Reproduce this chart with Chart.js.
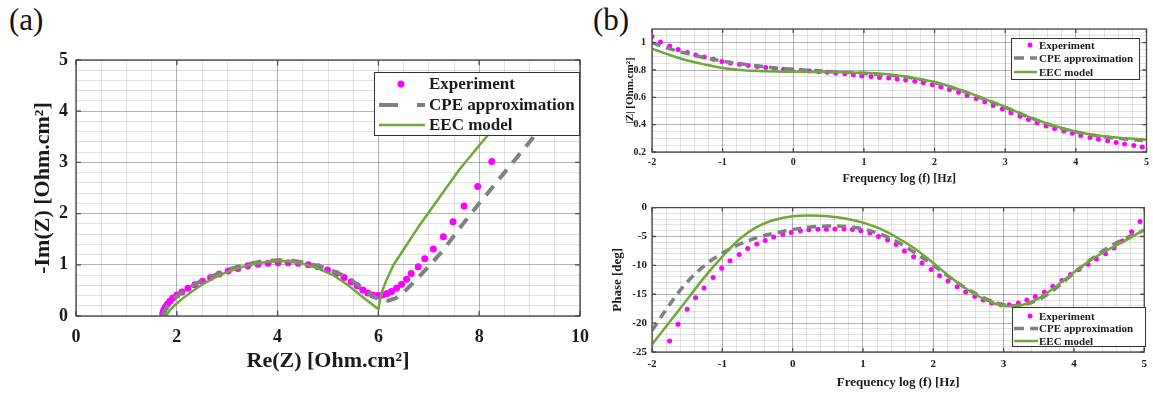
<!DOCTYPE html>
<html><head><meta charset="utf-8">
<script src="https://cdn.jsdelivr.net/npm/chart.js@4.4.1/dist/chart.umd.min.js"></script>
<style>
html,body{margin:0;padding:0;background:#fff;}
body{width:1153px;height:394px;position:relative;overflow:hidden;}
canvas{position:absolute;}
.lab{position:absolute;font-family:"Liberation Serif","Times New Roman",serif;font-size:31px;line-height:31px;color:#111;}
</style></head><body>
<div class="lab" style="left:9px;top:4px">(a)</div>
<div class="lab" style="left:593px;top:4px">(b)</div>
<canvas id="ca" width="600" height="394" style="left:0;top:0"></canvas>
<canvas id="cb1" width="563" height="194" style="left:590px;top:0"></canvas>
<canvas id="cb2" width="563" height="198" style="left:590px;top:196px"></canvas>
<script>
// ---------- (a) Nyquist data ----------
const nyqExpRe = [1.72,1.74,1.77,1.81,1.86,1.92,2.00,2.10,2.22,2.36,2.51,2.67,2.84,3.02,3.21,3.41,3.61,3.81,4.01,4.21,4.41,4.61,4.80,4.99,5.16,5.32,5.46,5.58,5.69,5.79,5.89,5.99,6.08,6.17,6.26,6.36,6.46,6.56,6.65,6.79,6.92,7.09,7.29,7.48,7.70,7.97,8.25];
const nyqExpIm = [0.05,0.11,0.17,0.23,0.29,0.35,0.41,0.47,0.54,0.61,0.68,0.75,0.82,0.88,0.93,0.98,1.01,1.03,1.04,1.04,1.03,1.00,0.96,0.90,0.83,0.75,0.67,0.59,0.51,0.45,0.41,0.40,0.41,0.44,0.48,0.54,0.62,0.72,0.83,0.96,1.12,1.31,1.55,1.84,2.15,2.53,3.02];
const nyqCpeRe = [1.72,1.76,1.82,1.92,2.05,2.2,2.4,2.6,2.85,3.1,3.4,3.7,4.0,4.3,4.6,4.9,5.2,5.45,5.7,5.9,6.05,6.2,6.35,6.5,6.7,7.0,7.3,7.6,8.0,8.5,9.0,9.4];
const nyqCpeIm = [0,0.1,0.2,0.32,0.43,0.53,0.64,0.74,0.84,0.93,1.01,1.07,1.09,1.08,1.03,0.95,0.84,0.71,0.53,0.38,0.31,0.30,0.35,0.46,0.66,0.97,1.3,1.7,2.2,2.8,3.4,3.9];
const nyqEecRe = [1.79,1.85,1.95,2.1,2.3,2.5,2.75,3.0,3.3,3.6,3.9,4.2,4.5,4.8,5.1,5.4,5.7,6.0,6.03,6.08,6.15,6.3,6.5,6.8,7.2,7.6,8.0,8.4,8.8];
const nyqEecIm = [0,0.1,0.2,0.33,0.48,0.61,0.75,0.86,0.96,1.03,1.07,1.07,1.02,0.93,0.8,0.6,0.36,0.13,0.3,0.5,0.68,1.0,1.3,1.75,2.3,2.85,3.33,3.8,4.35];
const nyqXTicks = [0,2,4,6,8,10];
const nyqYTicks = [0,1,2,3,4,5];

// ---------- (b) Bode data ----------
const freqExp = [-2.00,-1.88,-1.75,-1.63,-1.50,-1.38,-1.26,-1.13,-1.01,-0.89,-0.76,-0.64,-0.51,-0.39,-0.27,-0.14,-0.02,0.11,0.23,0.36,0.48,0.60,0.73,0.85,0.97,1.10,1.22,1.35,1.47,1.59,1.72,1.84,1.97,2.09,2.21,2.34,2.46,2.59,2.71,2.83,2.96,3.08,3.21,3.33,3.45,3.58,3.70,3.83,3.95,4.07,4.20,4.32,4.45,4.57,4.69,4.82,4.94];
const magExp = [1.045,1.005,0.975,0.95,0.928,0.91,0.895,0.878,0.863,0.852,0.842,0.833,0.825,0.818,0.811,0.804,0.80,0.796,0.792,0.788,0.783,0.778,0.772,0.765,0.757,0.752,0.746,0.741,0.735,0.727,0.718,0.706,0.692,0.675,0.657,0.637,0.615,0.592,0.567,0.541,0.515,0.488,0.462,0.437,0.413,0.391,0.372,0.354,0.337,0.321,0.307,0.294,0.282,0.27,0.258,0.247,0.237];
const phaseExp = [null,null,-23.1,-20.2,-17.6,-15.6,-13.9,-12.1,-10.5,-9.2,-8.1,-7.1,-6.3,-5.7,-5.1,-4.6,-4.3,-4.0,-3.85,-3.75,-3.75,-3.7,-3.7,-3.8,-4.0,-4.4,-5.0,-5.6,-6.4,-7.5,-8.5,-9.6,-10.7,-11.8,-12.7,-13.7,-14.6,-15.4,-16.0,-16.5,-16.8,-16.8,-16.5,-16.0,-15.4,-14.6,-13.6,-12.6,-11.6,-10.7,-9.8,-8.9,-8.0,-7.0,-5.8,-4.2,-2.4];
const freqModel = [-2,-1.75,-1.5,-1.25,-1,-0.75,-0.5,-0.25,0,0.25,0.5,0.75,1,1.25,1.5,1.75,2,2.25,2.5,2.75,3,3.25,3.5,3.75,4,4.25,4.5,4.75,5];
const magCpe = [1.0,0.955,0.92,0.89,0.865,0.845,0.83,0.815,0.805,0.797,0.79,0.783,0.775,0.765,0.755,0.735,0.708,0.672,0.627,0.577,0.527,0.473,0.423,0.38,0.347,0.322,0.305,0.292,0.283];
const magEec = [0.956,0.91,0.87,0.84,0.815,0.80,0.793,0.789,0.787,0.786,0.785,0.783,0.78,0.773,0.758,0.738,0.712,0.675,0.63,0.58,0.53,0.475,0.425,0.383,0.35,0.325,0.31,0.298,0.29];
const phaseCpe = [-21.3,-16.8,-12.9,-10.0,-7.9,-6.3,-5.2,-4.4,-3.8,-3.35,-3.2,-3.25,-3.7,-4.6,-6.0,-7.9,-10.0,-12.2,-14.2,-15.8,-16.8,-16.9,-15.9,-13.9,-11.3,-8.9,-6.8,-5.2,-3.9];
const phaseEec = [-23.7,-19.8,-15.9,-12.0,-8.5,-5.4,-3.3,-2.1,-1.5,-1.35,-1.5,-1.9,-2.6,-3.7,-5.3,-7.2,-9.6,-12.1,-14.3,-16.0,-17.0,-16.9,-15.7,-13.6,-11.2,-9.0,-7.2,-5.6,-3.8];
const freqTicks = [-2,-1,0,1,2,3,4,5];
const magTicks = [0.2,0.4,0.6,0.8,1];
const phaseTicks = [-25,-20,-15,-10,-5,0];

const seriesLabels = ['Experiment','CPE approximation','EEC model'];

// ---------- helpers ----------
const SERIF = '"Liberation Serif","Times New Roman",serif';
const MAGENTA = '#ff00ff', GRAY = '#808080', GREEN = '#6fa83a';

function minorTicks(min, max, step) {
  const n = Math.round((max - min) / step), a = [];
  for (let i = 0; i <= n; i++) a.push(+(min + i * step).toFixed(6));
  return a;
}
function isIn(v, arr) { return arr.some(m => Math.abs(m - v) < 1e-6); }
function pts(xs, ys) { const o = []; xs.forEach((x, i) => { if (ys[i] !== null) o.push({x: x, y: ys[i]}); }); return o; }

function axis(o) {
  return {
    type: 'linear', position: o.position, min: o.min, max: o.max,
    afterBuildTicks: s => { s.ticks = minorTicks(o.min, o.max, o.minorStep).map(v => ({value: v})); },
    afterFit: s => { if (o.position === 'left') s.width = o.size; else s.height = o.size; },
    ticks: {
      autoSkip: false, maxRotation: 0, minRotation: 0, padding: o.labelPad, color: '#1a1a1a',
      font: {family: SERIF, size: o.fontSize, weight: 'bold'},
      callback: v => isIn(v, o.majors) ? String(+(+v).toFixed(2)) : ''
    },
    grid: {
      drawTicks: false, lineWidth: 1,
      color: c => (c.tick && isIn(c.tick.value, o.majors)) ? 'rgba(0,0,0,0.30)' : 'rgba(0,0,0,0.11)'
    },
    border: {display: false},
    title: {
      display: true, text: o.title, color: '#1a1a1a',
      font: {family: SERIF, size: o.titleSize, weight: 'bold', lineHeight: 1.2},
      padding: o.position === 'left' ? {top: o.titlePad, bottom: 0} : {top: 0, bottom: o.titlePad}
    }
  };
}

const framePlugin = {
  id: 'frame',
  afterDatasetsDraw(chart, args, o) {
    const ctx = chart.ctx, a = chart.chartArea, xs = chart.scales.x, ys = chart.scales.y, tl = o.tickLen;
    ctx.save();
    ctx.strokeStyle = '#4a4a4a'; ctx.lineWidth = 1.3;
    ctx.strokeRect(a.left, a.top, a.right - a.left, a.bottom - a.top);
    ctx.beginPath();
    o.xMajors.forEach(v => { const p = xs.getPixelForValue(v); ctx.moveTo(p, a.bottom); ctx.lineTo(p, a.bottom - tl); ctx.moveTo(p, a.top); ctx.lineTo(p, a.top + tl); });
    o.yMajors.forEach(v => { const p = ys.getPixelForValue(v); ctx.moveTo(a.left, p); ctx.lineTo(a.left + tl, p); ctx.moveTo(a.right, p); ctx.lineTo(a.right - tl, p); });
    ctx.stroke();
    ctx.restore();
  }
};

const boxLegend = {
  id: 'boxLegend',
  afterDraw(chart, args, o) {
    const ctx = chart.ctx;
    ctx.save();
    ctx.fillStyle = '#fff'; ctx.fillRect(o.x, o.y, o.w, o.h);
    ctx.strokeStyle = '#333'; ctx.lineWidth = 1; ctx.strokeRect(o.x + 0.5, o.y + 0.5, o.w, o.h);
    ctx.font = 'bold ' + o.fontSize + 'px ' + SERIF; ctx.textBaseline = 'middle'; ctx.textAlign = 'left';
    chart.data.datasets.forEach((ds, i) => {
      const y = o.rows[i];
      if (!ds.showLine) {
        ctx.fillStyle = ds.pointBackgroundColor; ctx.beginPath(); ctx.arc(o.markerX, y, ds.pointRadius, 0, Math.PI * 2); ctx.fill();
      } else {
        ctx.strokeStyle = ds.borderColor; ctx.lineWidth = ds.borderWidth;
        ctx.setLineDash(ds.borderDash ? o.legendDash : []);
        ctx.beginPath(); ctx.moveTo(o.sx0, y); ctx.lineTo(o.sx1, y); ctx.stroke(); ctx.setLineDash([]);
      }
      ctx.fillStyle = '#1a1a1a'; ctx.fillText(ds.label, o.textX, y + 1);
    });
    ctx.restore();
  }
};

function datasets(expPts, cpePts, eecPts, r, gw, cw, dash, tension) {
  return [
    {label: seriesLabels[0], data: expPts, showLine: false, pointRadius: r, pointBackgroundColor: MAGENTA, pointBorderWidth: 0, order: 3},
    {label: seriesLabels[1], data: cpePts, showLine: true, borderColor: GRAY, borderWidth: cw, borderDash: dash, pointRadius: 0, tension: tension, fill: false, order: 2},
    {label: seriesLabels[2], data: eecPts, showLine: true, borderColor: GREEN, borderWidth: gw, pointRadius: 0, tension: tension, fill: false, order: 1}
  ];
}

function baseOptions(pad, xAxis, yAxis, frame, legend) {
  return {
    responsive: false, animation: false, devicePixelRatio: 1, events: [],
    layout: {padding: pad},
    scales: {x: xAxis, y: yAxis},
    plugins: {legend: {display: false}, tooltip: {enabled: false}, frame: frame, boxLegend: legend}
  };
}

// ---------- chart (a) ----------
new Chart(document.getElementById('ca'), {
  type: 'scatter',
  data: {datasets: datasets(pts(nyqExpRe, nyqExpIm), pts(nyqCpeRe, nyqCpeIm), pts(nyqEecRe, nyqEecIm), 3.5, 2.5, 4, [12, 9], 0)},
  options: baseOptions({top: 60, right: 9, left: 0, bottom: 0},
    axis({position: 'bottom', min: 0, max: 10, minorStep: 0.5, majors: nyqXTicks, size: 78, labelPad: 11, fontSize: 18, title: 'Re(Z) [Ohm.cm²]', titleSize: 22, titlePad: 19}),
    axis({position: 'left', min: 0, max: 5, minorStep: 0.2, majors: nyqYTicks, size: 76, labelPad: 8, fontSize: 18, title: '-Im(Z) [Ohm.cm²]', titleSize: 22, titlePad: 30}),
    {tickLen: 5, xMajors: nyqXTicks, yMajors: nyqYTicks},
    {x: 374, y: 72, w: 205, h: 63, rows: [84, 105, 125], sx0: 379, sx1: 425, markerX: 401, textX: 429, fontSize: 17, legendDash: [19, 19]}),
  plugins: [framePlugin, boxLegend]
});

// ---------- chart (b) top: |Z| ----------
new Chart(document.getElementById('cb1'), {
  type: 'scatter',
  data: {datasets: datasets(pts(freqExp, magExp), pts(freqModel, magCpe), pts(freqModel, magEec), 2.5, 2.5, 3.5, [9, 6], 0.35)},
  options: baseOptions({top: 29, right: 4, left: 0, bottom: 0},
    axis({position: 'bottom', min: -2, max: 5, minorStep: 0.2, majors: freqTicks, size: 42, labelPad: 4, fontSize: 10, title: 'Frequency log (f) [Hz]', titleSize: 12, titlePad: 8}),
    axis({position: 'left', min: 0.2, max: 1.1, minorStep: 0.05, majors: magTicks, size: 62, labelPad: 6, fontSize: 10, title: '|Z| [Ohm.cm²]', titleSize: 11, titlePad: 34}),
    {tickLen: 4, xMajors: freqTicks, yMajors: magTicks},
    {x: 421, y: 38, w: 128, h: 41, rows: [45, 58, 72], sx0: 424, sx1: 447, markerX: 440, textX: 449, fontSize: 11, legendDash: [10, 6]}),
  plugins: [framePlugin, boxLegend]
});

// ---------- chart (b) bottom: Phase ----------
new Chart(document.getElementById('cb2'), {
  type: 'scatter',
  data: {datasets: datasets(pts(freqExp, phaseExp), pts(freqModel, phaseCpe), pts(freqModel, phaseEec), 2.5, 2.5, 3.5, [9, 6], 0.35)},
  options: baseOptions({top: 10, right: 7, left: 0, bottom: 0},
    axis({position: 'bottom', min: -2, max: 5, minorStep: 0.2, majors: freqTicks, size: 42, labelPad: 6, fontSize: 11, title: 'Frequency log (f) [Hz]', titleSize: 13, titlePad: 4}),
    axis({position: 'left', min: -25, max: 0, minorStep: 1, majors: phaseTicks, size: 62, labelPad: 5, fontSize: 11, title: 'Phase [deg]', titleSize: 13, titlePad: 20}),
    {tickLen: 4, xMajors: freqTicks, yMajors: phaseTicks},
    {x: 422, y: 111, w: 133, h: 39, rows: [120, 132.5, 145], sx0: 424, sx1: 448, markerX: 440, textX: 449, fontSize: 11, legendDash: [10, 6]}),
  plugins: [framePlugin, boxLegend]
});
</script>
</body></html>
